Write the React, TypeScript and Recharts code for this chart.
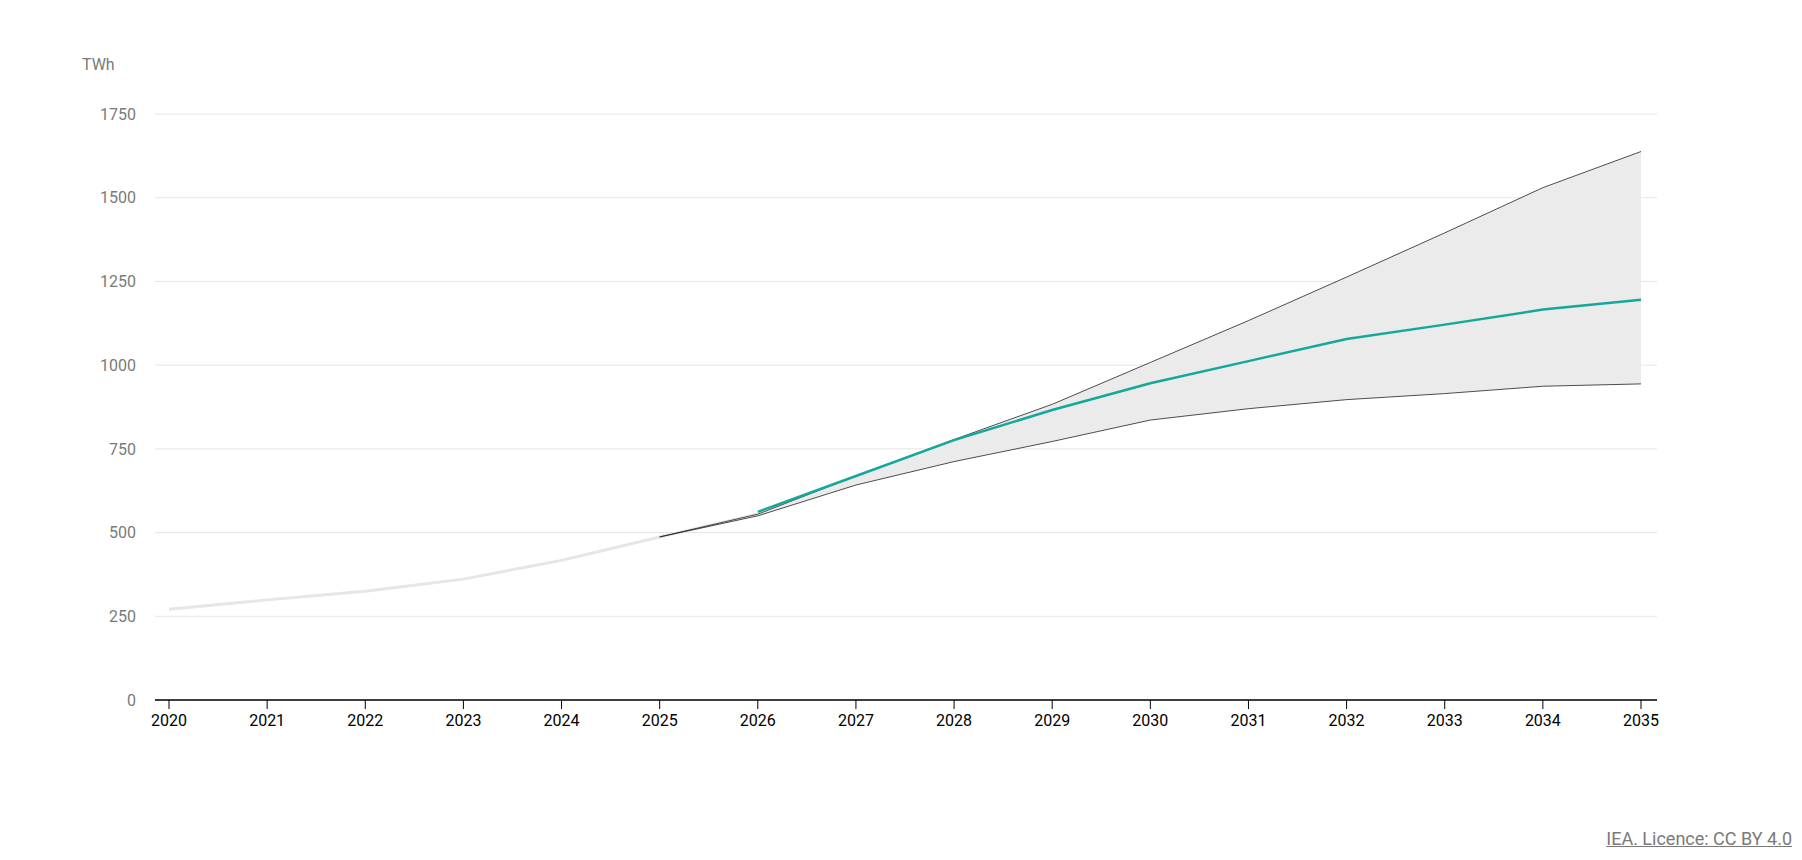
import {
  ComposedChart,
  Line,
  Area,
  XAxis,
  YAxis,
  CartesianGrid,
} from 'recharts';

const years = [2020, 2021, 2022, 2023, 2024, 2025, 2026, 2027, 2028, 2029, 2030, 2031, 2032, 2033, 2034, 2035];

// observed history (light grey line)
const history = [271, 299, 325, 361, 417, 487, 555, null, null, null, null, null, null, null, null, null];
// projection range, low and high cases
const lowCase = [null, null, null, null, null, 487, 550, 642, 712, 772, 836, 870, 897, 915, 937, 944];
const highCase = [null, null, null, null, null, 487, 555, 669, 778, 883, 1008, 1133, 1263, 1395, 1530, 1638];
// main case (teal)
const mainCase = [null, null, null, null, null, null, 562, 669, 776, 866, 946, 1012, 1078, 1121, 1166, 1195];

const yTicks = [0, 250, 500, 750, 1000, 1250, 1500, 1750];

const data = years.map((year, i) => ({
  year,
  history: history[i],
  low: lowCase[i],
  high: highCase[i],
  main: mainCase[i],
  range: lowCase[i] != null && highCase[i] != null ? [lowCase[i], highCase[i]] : null,
}));

const FONT = 'Roboto, "Liberation Sans", sans-serif';

export default function App() {
  return (
    <div style={{ position: 'absolute', left: 0, top: 0, width: 1802, height: 860, background: '#fff', fontFamily: FONT }}>
      <div style={{ position: 'absolute', left: 82, top: 55, fontSize: 16, color: '#7a7a7a' }}>TWh</div>
      <ComposedChart
        width={1802}
        height={860}
        data={data}
        margin={{ top: 114, right: 145, bottom: 130, left: 95 }}
      >
        <CartesianGrid vertical={false} stroke="#e6e6e6" strokeWidth={1} />
        <XAxis
          dataKey="year"
          type="number"
          domain={[2020, 2035]}
          ticks={years}
          height={30}
          padding={{ left: 14, right: 16 }}
          axisLine={{ stroke: '#000', strokeWidth: 1.5 }}
          tickLine={{ stroke: '#000' }}
          tickSize={9}
          tickMargin={6}
          tick={{ fontSize: 16, fill: '#000', fontFamily: FONT }}
        />
        <YAxis
          domain={[0, 1750]}
          ticks={yTicks}
          width={60}
          axisLine={false}
          tickLine={false}
          tickMargin={13}
          tick={{ fontSize: 16, fill: '#7a7a7a', fontFamily: FONT }}
        />
        <Area
          dataKey="range"
          stroke="none"
          fill="#ebebeb"
          fillOpacity={1}
          isAnimationActive={false}
        />
        <Line
          dataKey="history"
          stroke="#e6e6e6"
          strokeWidth={3}
          dot={false}
          activeDot={false}
          type="linear"
          isAnimationActive={false}
        />
        <Line
          dataKey="low"
          stroke="#222"
          strokeWidth={0.8}
          dot={false}
          activeDot={false}
          type="linear"
          isAnimationActive={false}
        />
        <Line
          dataKey="high"
          stroke="#222"
          strokeWidth={0.8}
          dot={false}
          activeDot={false}
          type="linear"
          isAnimationActive={false}
        />
        <Line
          dataKey="main"
          stroke="#14a89b"
          strokeWidth={2.5}
          dot={false}
          activeDot={false}
          type="linear"
          isAnimationActive={false}
        />
      </ComposedChart>
      <div
        style={{
          position: 'absolute',
          right: 10,
          top: 828,
          fontSize: 18,
          color: '#7a7a7a',
          textDecoration: 'underline',
        }}
      >
        IEA. Licence: CC BY 4.0
      </div>
    </div>
  );
}
